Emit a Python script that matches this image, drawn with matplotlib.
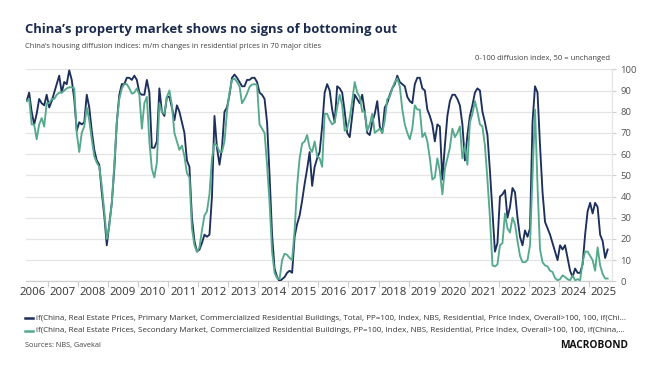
import matplotlib
matplotlib.use("Agg")
import matplotlib.pyplot as plt
from matplotlib.lines import Line2D
import numpy as np

# ---------------- data (monthly, Apr 2006 - Aug 2025) ----------------
start_year, start_month = 2006, 4

primary = [
    # 2006 Apr-Dec
    85, 89, 80, 74, 79, 86, 84, 83, 88,
    # 2007
    82, 85, 89, 93, 97, 89, 94, 93, 99.5, 95, 86, 71,
    # 2008
    75, 74, 75, 88, 82, 71, 62, 57, 55, 42, 31, 17,
    # 2009
    27, 37, 53, 75, 88, 93, 93, 96, 96, 95, 97, 95,
    # 2010
    89, 88, 88, 95, 89, 63, 63, 66, 91, 80, 78, 87,
    # 2011
    87, 82, 76, 83, 80, 75, 70, 57, 54, 30, 19, 14,
    # 2012
    15, 18, 22, 21, 22, 40, 78, 63, 55, 63, 80, 82,
    # 2013
    88, 96, 97.5, 96, 94, 92, 92, 95, 95, 96, 96, 94,
    # 2014
    89, 88, 86, 75, 50, 22, 6, 2, 0, 1, 2, 4,
    # 2015
    5, 4, 21, 27, 31, 38, 46, 53, 61, 45, 54, 58,
    # 2016
    61, 73, 89, 93, 90, 81, 75, 92, 91, 89, 80, 70,
    # 2017
    68, 78, 88, 86, 84, 88, 80, 70, 69, 75, 79, 85,
    # 2018
    73, 70, 82, 84, 88, 91, 93, 97, 94, 93, 92, 87,
    # 2019
    85, 84, 93, 96, 96, 91, 90, 81, 78, 74, 66, 74,
    # 2020
    73, 48, 64, 78, 85, 88, 88, 86, 83, 74, 57, 69,
    # 2021
    78, 83, 89, 91, 90, 80, 75, 69, 52, 33, 14, 18,
    # 2022
    40, 41, 43, 30, 35, 44, 42, 30, 21, 17, 24, 21,
    # 2023
    25, 75, 92, 89, 64, 42, 28, 25, 22, 18, 14, 10,
    # 2024
    17, 15, 17, 11, 5, 2, 6, 4, 4, 8, 22, 33,
    # 2025 Jan-Aug
    37, 32, 37, 35, 22, 19, 11, 15,
]

secondary = [
    # 2006 Apr-Dec
    85, 86, 74, 74, 67, 74, 77, 73, 84,
    # 2007
    84, 86, 86, 88, 89, 89, 90, 91, 91.5, 91.5, 91, 70,
    # 2008
    61, 70, 73, 82, 76, 67, 59, 56, 54, 45, 33, 20,
    # 2009
    26, 37, 55, 75, 86, 91, 93, 93, 91, 88.5, 89, 91,
    # 2010
    88, 72, 84, 87, 66, 53, 49, 56, 84, 80, 79, 87,
    # 2011
    90, 83, 70, 66, 62, 64, 59, 51, 49, 25, 17, 14,
    # 2012
    16, 24, 31, 33, 41, 58, 65, 64, 61, 61, 66, 80,
    # 2013
    89, 95, 95.6, 94, 92, 84, 86, 88.5, 91.7, 92.8, 93, 92.5,
    # 2014
    74, 72, 70, 55, 37, 14, 4, 1.5, 1, 10, 13, 12.5,
    # 2015
    11, 10, 24, 45, 58, 65, 66, 69, 63, 61, 66, 59,
    # 2016
    58, 54, 79, 79, 76, 74, 75, 82, 88, 83, 71, 72,
    # 2017
    77, 85, 94, 89, 87, 80, 80, 71, 74, 79, 70, 71,
    # 2018
    72, 70, 76, 86, 87, 91, 94, 95.7, 92, 81, 74, 70,
    # 2019
    67, 72, 83, 81, 81, 68, 70, 66, 58, 48, 49, 58,
    # 2020
    52, 41, 53, 58, 63, 72, 68, 70, 73, 58, 64, 55,
    # 2021
    75, 79, 85, 80, 74, 73, 64, 48, 30, 7.5, 7, 8,
    # 2022
    17, 18, 32, 25, 23, 30, 27, 19, 12, 9, 9, 10,
    # 2023
    17, 50, 81, 45, 15, 9, 7.5, 7, 5, 4.4, 1.5, 0.5,
    # 2024
    1, 2.8, 2, 1, 0.5, 2.8, 0.5, 1, 0.5, 9, 14, 14,
    # 2025 Jan-Aug
    12, 10, 5, 16, 7.5, 3.5, 1.3, 1.3,
]

year_labels = [str(y) for y in range(2006, 2026)]
y_ticks = list(range(0, 101, 10))

title = "China\u2019s property market shows no signs of bottoming out"
subtitle = "China\u2019s housing diffusion indices: m/m changes in residential prices in 70 major cities"
unit_note = "0-100 diffusion index, 50 = unchanged"
legend_primary = ("if(China, Real Estate Prices, Primary Market, Commercialized Residential Buildings, Total, "
                  "PP=100, Index, NBS, Residential, Price Index, Overall>100, 100, if(Chi...")
legend_secondary = ("if(China, Real Estate Prices, Secondary Market, Commercialized Residential Buildings, "
                    "PP=100, Index, NBS, Residential, Price Index, Overall>100, 100, if(China,...")
source_note = "Sources: NBS, Gavekal"
brand = "MACROBOND"

# ---------------- styling ----------------
C_DARK = "#1d2f5c"
C_GREEN = "#55a98c"
C_TITLE = "#1b2b4f"
C_TEXT = "#404040"
C_GRID = "#e4e4e4"
FONT = ["Open Sans", "DejaVu Sans"]
plt.rcParams["font.family"] = FONT

W, H = 652, 371
fig = plt.figure(figsize=(W / 100, H / 100), dpi=100)
fig.patch.set_facecolor("white")

def fx(px):
    return px / W

def fy(py):
    return 1 - py / H

ax_l, ax_r, ax_t, ax_b = 26, 612, 69.3, 281.3
ax = fig.add_axes([fx(ax_l), fy(ax_b), fx(ax_r - ax_l), (ax_b - ax_t) / H])

n = len(primary)
dates = np.array([start_year + (start_month - 1 + k) / 12 + 1 / 24 for k in range(n)])

ax.plot(dates, primary, color=C_DARK, lw=1.35, solid_joinstyle="round", zorder=3)
ax.plot(dates, secondary, color=C_GREEN, lw=1.35, solid_joinstyle="round", zorder=3)

ax.set_xlim(2006.27, 2025.77)
ax.set_ylim(0, 100)

# x axis: ticks on year boundaries, labels at mid-year
years = np.arange(2006, 2027)
ax.set_xticks([y for y in years if 2006.27 < y < 2025.77])
ax.set_xticklabels([])
ax.set_xticks([int(l) + 0.5 for l in year_labels], minor=True)
ax.set_xticklabels(year_labels, minor=True, fontsize=8.2, color="#333333")
ax.tick_params(axis="x", which="major", length=4, width=0.8, color="#cccccc", direction="out")
ax.tick_params(axis="x", which="minor", length=0, pad=4)

# y axis on the right
ax.yaxis.tick_right()
ax.set_yticks(y_ticks)
ax.set_yticklabels([str(v) for v in y_ticks], fontsize=6.8, color="#555555")
ax.tick_params(axis="y", length=3, width=0.8, color="#cccccc", pad=3)
ax.grid(axis="y", color=C_GRID, lw=0.9)
ax.set_axisbelow(True)

for s in ["top", "left"]:
    ax.spines[s].set_visible(False)
ax.spines["bottom"].set_color("#d0d0d0")
ax.spines["bottom"].set_linewidth(0.9)
ax.spines["right"].set_color("#e4e4e4")
ax.spines["right"].set_linewidth(0.9)

# ---------------- texts ----------------
renderer = fig.canvas.get_renderer()

def fit_text(x_px, y_px, s, width_px, size0, ha="left", **kw):
    t = fig.text(fx(x_px), fy(y_px), s, fontsize=size0, ha=ha, va="center", **kw)
    w = t.get_window_extent(renderer).width
    t.set_fontsize(size0 * width_px / w)
    return t

fit_text(25, 30, title, 370, 13, fontweight="bold", color=C_TITLE)
fit_text(25, 46, subtitle, 300, 7, color=C_TEXT)
fit_text(610, 58, unit_note, 137, 7, ha="right", color=C_TEXT)

for yy, col, txt in [(318, C_DARK, legend_primary), (331, C_GREEN, legend_secondary)]:
    fig.add_artist(Line2D([fx(25), fx(33)], [fy(yy), fy(yy)], color=col, lw=1.8,
                          transform=fig.transFigure))
    fit_text(36, yy, txt, 591 if col == C_DARK else 589, 6.5, color="#333333")

fit_text(25, 345, source_note, 75, 6.5, color=C_TEXT)
fit_text(628, 345, brand, 68, 8, ha="right", fontweight="bold", color="#111111")

fig.savefig("out.png", dpi=100, facecolor="white")
